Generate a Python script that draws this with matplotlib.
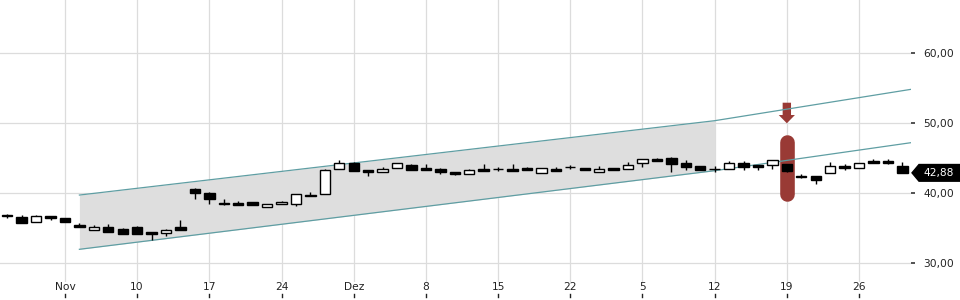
import matplotlib
matplotlib.use("Agg")
import matplotlib.pyplot as plt
from matplotlib.patches import Polygon
from matplotlib.transforms import blended_transform_factory
import numpy as np

# ---- data ----
opens = [36.85, 36.53, 35.81, 36.71, 36.43, 35.48, 34.76, 35.14, 34.86, 35.14,
         34.38, 34.33, 35.14, 40.57, 39.95, 38.57, 38.62, 38.71, 37.95, 38.38,
         38.38, 39.76, 39.81, 43.38, 44.29, 43.24, 43.05, 43.52, 43.95, 43.52,
         43.43, 43.00, 42.67, 43.43, 43.43, 43.43, 43.57, 42.81, 43.43, 43.76,
         43.57, 43.05, 43.57, 43.38, 44.24, 44.90, 45.00, 44.29, 43.81, 43.43,
         43.48, 44.29, 44.00, 43.95, 44.14, 42.43, 42.43, 42.81, 43.90, 43.52,
         44.62, 44.62, 43.90]
highs = [37.05, 36.86, 36.90, 36.71, 36.43, 35.71, 35.43, 35.62, 35.00, 35.29,
         34.38, 34.81, 36.14, 40.71, 40.10, 39.10, 38.81, 38.71, 38.38, 38.86,
         39.81, 40.19, 43.38, 44.71, 44.45, 43.24, 43.67, 44.24, 44.14, 44.14,
         43.57, 43.00, 43.43, 44.17, 43.76, 44.14, 43.71, 43.52, 43.71, 44.05,
         43.57, 43.86, 43.57, 44.43, 44.84, 45.05, 45.14, 44.71, 43.81, 43.86,
         44.62, 44.57, 44.00, 44.71, 44.20, 42.71, 42.43, 44.38, 44.14, 44.33,
         44.81, 44.90, 44.48]
lows = [36.50, 35.67, 35.81, 36.14, 35.90, 35.19, 34.76, 34.48, 34.19, 34.19,
        33.29, 33.90, 34.76, 39.14, 38.48, 38.33, 38.33, 38.33, 37.95, 38.38,
        38.19, 39.62, 39.81, 43.38, 43.19, 42.48, 43.05, 43.52, 43.24, 43.33,
        42.76, 42.62, 42.67, 43.10, 43.19, 43.19, 43.24, 42.81, 43.19, 43.48,
        43.24, 43.05, 43.33, 43.38, 43.65, 44.60, 43.05, 43.29, 43.33, 43.05,
        43.48, 43.33, 43.29, 43.48, 43.05, 42.10, 41.35, 42.81, 43.33, 43.52,
        44.33, 44.10, 42.88]
closes = [36.65, 35.67, 36.71, 36.48, 35.90, 35.19, 35.14, 34.48, 34.19, 34.19,
          34.19, 34.67, 34.76, 40.05, 39.10, 38.48, 38.33, 38.33, 38.38, 38.67,
          39.81, 39.62, 43.24, 44.33, 43.19, 43.02, 43.38, 44.24, 43.24, 43.33,
          42.95, 42.76, 43.29, 43.10, 43.36, 43.19, 43.24, 43.52, 43.19, 43.67,
          43.24, 43.43, 43.33, 43.95, 44.84, 44.60, 44.19, 43.71, 43.33, 43.36,
          44.29, 43.71, 43.71, 44.71, 43.19, 42.33, 41.90, 43.90, 43.57, 44.33,
          44.33, 44.33, 42.88]

tick_idx = [4, 9, 14, 19, 24, 29, 34, 39, 44, 49, 54, 59]
tick_labels = ["Nov", "10", "17", "24", "Dez", "8", "15", "22", "5", "12", "19", "26"]
y_ticks = [30, 40, 50, 60]
y_tick_labels = ["30,00", "40,00", "50,00", "60,00"]

# trend channel (index, value)
chan_x = [5, 49, 62.6]
chan_upper = [39.71, 50.33, 54.81]
chan_lower = [31.96, 43.19, 47.19]
chan_fill_end = 49

# signal marker
sig_idx = 54
sig_top, sig_bottom = 48.29, 38.86
arrow_top, arrow_head, arrow_tip = 52.9, 51.14, 49.96

last_price_label = "42,88"
last_price = 42.88

# ---- figure ----
W, H = 960, 300
fig = plt.figure(figsize=(W / 100, H / 100), dpi=100)
ax_right_px, ax_bottom_px = 911, 18
ax = fig.add_axes([0, ax_bottom_px / H, ax_right_px / W, (H - ax_bottom_px) / H])
ax.set_xlim(-0.5, 62.6)
ax.set_ylim(27.29, 67.57)
for s in ax.spines.values():
    s.set_visible(False)

ax.set_xticks(tick_idx)
ax.set_xticklabels(tick_labels)
ax.set_yticks(y_ticks)
ax.set_yticklabels(y_tick_labels)
ax.yaxis.tick_right()
ax.tick_params(axis='x', length=0, pad=0.3, labelsize=7.7, colors='#222222')
ax.tick_params(axis='y', length=3.2, width=1.1, pad=5.5, labelsize=7.7,
               colors='#222222')
ax.grid(True, color='#dcdcdc', lw=0.9, zorder=0)
ax.set_axisbelow(True)

# small x tick marks below labels
trans_x = blended_transform_factory(ax.transData, ax.transAxes)
yb0 = (3 - ax_bottom_px) / (H - ax_bottom_px)
yb1 = (6 - ax_bottom_px) / (H - ax_bottom_px)
for t in tick_idx:
    ax.plot([t, t], [yb0, yb1], transform=trans_x, color='#222222', lw=1.0,
            clip_on=False)

# channel fill
xs_fill = np.array([chan_x[0], chan_fill_end])
up_fill = np.interp(xs_fill, chan_x, chan_upper)
lo_fill = np.interp(xs_fill, chan_x, chan_lower)
ax.fill_between(xs_fill, lo_fill, up_fill, color='#dedede', lw=0, zorder=1)
ax.plot(chan_x, chan_upper, color='#5f9ea3', lw=0.9, zorder=3)
ax.plot(chan_x, chan_lower, color='#5f9ea3', lw=0.9, zorder=3)

# signal marker (rounded bar) and arrow
sig_color = '#993a35'
cap = 7 / 7.0  # half width in value units (7 px at 7 px/unit)
ax.plot([sig_idx, sig_idx], [sig_top - cap, sig_bottom + cap], color=sig_color,
        lw=10.5, solid_capstyle='round', zorder=2)
sw, hw = 0.29, 0.56
arrow = Polygon([[sig_idx - sw, arrow_top], [sig_idx + sw, arrow_top],
                 [sig_idx + sw, arrow_head], [sig_idx + hw, arrow_head],
                 [sig_idx, arrow_tip], [sig_idx - hw, arrow_head],
                 [sig_idx - sw, arrow_head]], closed=True, color=sig_color,
                lw=0, zorder=2)
ax.add_patch(arrow)

# candles
o = np.array(opens); c = np.array(closes); h = np.array(highs); l = np.array(lows)
idx = np.arange(len(o))
ax.vlines(idx, l, h, color='black', lw=1.0, zorder=4)
up = c > o
bottoms = np.minimum(o, c)
heights = np.maximum(np.abs(c - o), 0.06)
ax.bar(idx, heights, bottom=bottoms, width=0.72,
       color=np.where(up, 'white', 'black'), edgecolor='black', lw=1.0, zorder=5)

# last price tag
tr = blended_transform_factory(fig.transFigure, ax.transData)
hh = 1.19
tag = Polygon([[912 / W, last_price], [919 / W, last_price + hh], [1.0, last_price + hh],
               [1.0, last_price - hh], [919 / W, last_price - hh]], closed=True,
              transform=tr, color='black', clip_on=False, zorder=6)
fig.patches.append(tag)
tag.set_figure(fig)
fig.text(923 / W, last_price, last_price_label, transform=tr, color='white',
         fontsize=7.7, va='center', ha='left', zorder=7)

fig.savefig("out.png", dpi=100)
